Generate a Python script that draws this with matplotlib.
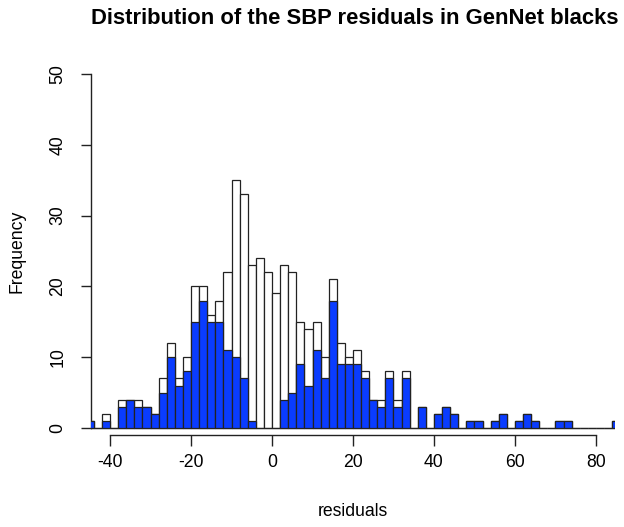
import numpy as np
import matplotlib
matplotlib.use("Agg")
import matplotlib.pyplot as plt

plt.rcParams['font.family'] = ['Liberation Sans', 'DejaVu Sans']
plt.rcParams['axes.unicode_minus'] = False

# histogram bins (width 2) from -46 to 86
bin_edges = np.arange(-46, 88, 2)

# all subjects (white bars)
total_counts = [1, 0, 2, 0, 4, 4, 4, 3, 2, 7, 12, 7, 10, 20, 20, 16, 18, 22, 35, 33,
                23, 24, 22, 19, 23, 22, 15, 14, 15, 10, 21, 12, 10, 11, 8, 4, 4, 8, 4, 8,
                0, 3, 0, 2, 3, 2, 0, 1, 1, 0, 1, 2, 0, 1, 2, 1, 0, 0, 1, 1,
                0, 0, 0, 0, 0, 1]

# subset (blue bars)
blue_counts = [1, 0, 1, 0, 3, 4, 3, 3, 2, 5, 10, 6, 8, 15, 18, 15, 15, 11, 10, 7,
               1, 0, 0, 0, 4, 5, 9, 6, 11, 7, 18, 9, 9, 9, 7, 4, 3, 7, 3, 7,
               0, 3, 0, 2, 3, 2, 0, 1, 1, 0, 1, 2, 0, 1, 2, 1, 0, 0, 1, 1,
               0, 0, 0, 0, 0, 1]

x_ticks = [-40, -20, 0, 20, 40, 60, 80]
y_ticks = [0, 10, 20, 30, 40, 50]

W, H = 624, 527
fig = plt.figure(figsize=(W / 100, H / 100), dpi=100)
# plot region in pixels: x 90.6..615.4, y 74..434.5 (from top)
ax = fig.add_axes([90.6 / W, 1 - 434.5 / H, (615.4 - 90.6) / W, (434.5 - 74) / H])

edge = '#222222'
ax.bar(bin_edges[:-1], total_counts, width=2, align='edge',
       color='white', edgecolor=edge, linewidth=0.9, zorder=2)
ax.bar(bin_edges[:-1], blue_counts, width=2, align='edge',
       color='#0a3cff', edgecolor=edge, linewidth=0.9, zorder=3)

ax.set_xlim(-44.8, 84.8)
ax.set_ylim(-0.92, 50)

for s in ['top', 'right']:
    ax.spines[s].set_visible(False)
ax.spines['bottom'].set_bounds(x_ticks[0], x_ticks[-1])
ax.spines['left'].set_bounds(y_ticks[0], y_ticks[-1])
for s in ['bottom', 'left']:
    ax.spines[s].set_color('#222222')
    ax.spines[s].set_linewidth(1.0)

ax.set_xticks(x_ticks)
ax.set_yticks(y_ticks)
ax.tick_params(axis='x', length=8, width=1.0, pad=6, labelsize=12.7, color='#222222')
ax.tick_params(axis='y', length=7.5, width=1.0, pad=10, labelsize=12.7, color='#222222',
               labelrotation=90)
for lab in ax.get_yticklabels():
    lab.set_verticalalignment('center')

fig.text(355 / W, 1 - 19 / H, 'Distribution of the SBP residuals in GenNet blacks',
         ha='center', va='center', fontsize=15.8, fontweight='bold')
fig.text(353 / W, 1 - 512 / H, 'residuals', ha='center', va='center', fontsize=12.7)
fig.text(17 / W, 1 - 251 / H, 'Frequency', ha='center', va='center',
         rotation=90, fontsize=12.7)

fig.savefig('out.png', dpi=100)
